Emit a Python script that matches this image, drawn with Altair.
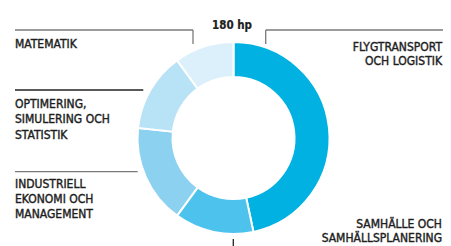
import altair as alt
import pandas as pd

# ---- data ----
categories = [
    "Flygtransport och logistik",
    "Samhälle och samhällsplanering",
    "Industriell ekonomi och management",
    "Optimering, simulering och statistik",
    "Matematik",
]
hp = [84, 24, 30, 24, 18]
colors = ["#00b1e2", "#4cc2ec", "#8dd1f1", "#b8e2f6", "#dcf0fb"]
title_text = "180 hp"

df = pd.DataFrame({"category": categories, "hp": hp, "order": list(range(len(hp)))})
dummy = pd.DataFrame({"d": [0]})

FONT = "DejaVu Sans Condensed"
TXT = "#1e1e1e"
GRAY = "#7a7a7a"

arc = alt.Chart(df).mark_arc(outerRadius=96, innerRadius=61, stroke="white", strokeWidth=2).encode(
    theta=alt.Theta("hp:Q", stack=True),
    order=alt.Order("order:Q"),
    color=alt.Color("category:N", scale=alt.Scale(domain=categories, range=colors), legend=None),
    x=alt.value(225.5),
    y=alt.value(130),
)


def label(lines, x, y, align="left", size=12, weight="normal", lh=15.5, sw=0.4):
    return alt.Chart(dummy).mark_text(
        align=align, baseline="alphabetic", font=FONT, fontSize=size,
        fontWeight=weight, color=TXT, lineHeight=lh, stroke=TXT, strokeWidth=sw,
    ).encode(x=alt.value(x), y=alt.value(y), text=alt.value(lines))


def hrule(x1, x2, y, color=GRAY):
    return alt.Chart(dummy).mark_rule(color=color, strokeWidth=1.3).encode(
        x=alt.value(x1), x2=alt.value(x2), y=alt.value(y))


def vrule(x, y1, y2, color=GRAY):
    return alt.Chart(dummy).mark_rule(color=color, strokeWidth=1.3).encode(
        x=alt.value(x), y=alt.value(y1), y2=alt.value(y2))


layers = [
    arc,
    label(title_text, 224, 20.5, align="center", size=11.5, weight="bold", sw=0.2),
    label(categories[4].upper(), 7, 39.7),
    label(["OPTIMERING,", "SIMULERING OCH", "STATISTIK"], 7, 99.7),
    label(["INDUSTRIELL", "EKONOMI OCH", "MANAGEMENT"], 7, 179.7, lh=15.3),
    label(["FLYGTRANSPORT", "OCH LOGISTIK"], 434, 42.7, align="right", lh=14.5),
    label(["SAMHÄLLE OCH", "SAMHÄLLSPLANERING"], 434, 220, align="right", lh=14),
    hrule(7, 185, 22),
    vrule(185, 22, 36),
    hrule(257.7, 435, 22),
    vrule(257.7, 22, 36),
    hrule(7, 135.3, 82, color="#222222"),
    hrule(7, 129.7, 163.7),
    vrule(225.3, 231, 240, color="#222222"),
]

chart = alt.layer(*layers).properties(
    width=435, height=238,
    autosize=alt.AutoSizeParams(type="none"),
    padding=0,
).configure_view(stroke=None)

chart.save("out.html", embed_options={"renderer": "svg", "actions": False})
